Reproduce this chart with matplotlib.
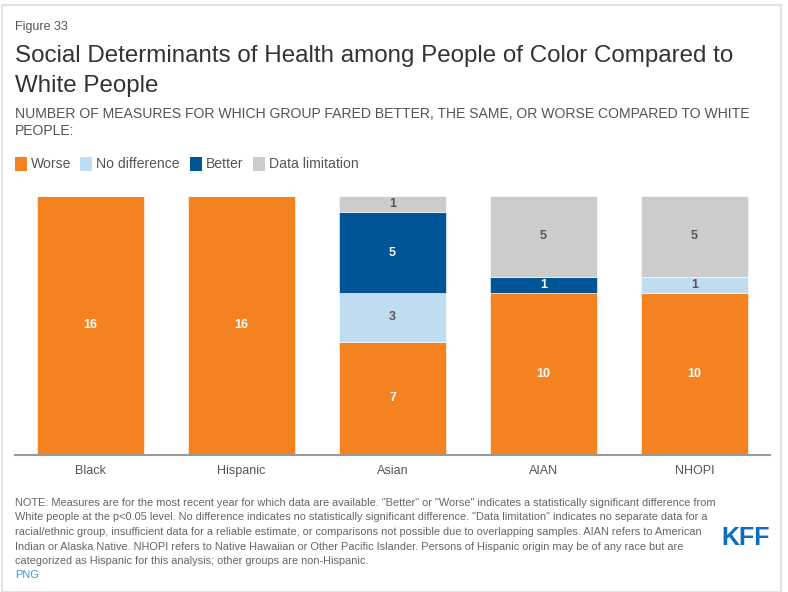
import matplotlib
matplotlib.use("Agg")
import matplotlib.pyplot as plt
from matplotlib.patches import Rectangle
import numpy as np

plt.rcParams['font.family'] = ['Liberation Sans', 'DejaVu Sans']

categories = ["Black", "Hispanic", "Asian", "AIAN", "NHOPI"]
series_names = ["Worse", "No difference", "Better", "Data limitation"]
worse = [16, 16, 7, 10, 10]
no_difference = [0, 0, 3, 0, 1]
better = [0, 0, 5, 1, 0]
data_limitation = [0, 0, 1, 5, 5]

colors = ["#F58220", "#BFDDF1", "#005596", "#CCCCCC"]
label_colors = ["white", "#555555", "white", "#555555"]

W, H = 788, 592
fig = plt.figure(figsize=(W / 100, H / 100), dpi=100)

def fx(px):
    return px / W

def fy(py):
    return 1 - py / H

# outer frame
fig.patches.append(Rectangle((fx(2), fy(592)), fx(779), fy(5) - fy(592),
                             transform=fig.transFigure, fill=False,
                             edgecolor="#DDDDDD", linewidth=1.2))

fig.text(fx(15), fy(27), "Figure 33", fontsize=9, color="#555555", va="center")
fig.text(fx(15), fy(56), "Social Determinants of Health among People of Color Compared to",
         fontsize=17.4, color="#333333", va="center")
fig.text(fx(15), fy(86), "White People", fontsize=17.4, color="#333333", va="center")
fig.text(fx(15), fy(114), "NUMBER OF MEASURES FOR WHICH GROUP FARED BETTER, THE SAME, OR WORSE COMPARED TO WHITE",
         fontsize=10.1, color="#555555", va="center")
fig.text(fx(15), fy(131), "PEOPLE:", fontsize=10.1, color="#555555", va="center")

# legend
leg_x = [15, 80, 190, 253]
for i, name in enumerate(series_names):
    fig.patches.append(Rectangle((fx(leg_x[i]), fy(171)), fx(12), fy(157) - fy(171),
                                 transform=fig.transFigure, facecolor=colors[i],
                                 edgecolor="none"))
    fig.text(fx(leg_x[i] + 16), fy(164), name, fontsize=10.1, color="#555555", va="center")

ax = fig.add_axes([fx(15), fy(455), fx(770) - fx(15), fy(196) - fy(455)])
x = np.arange(len(categories))
series = [worse, no_difference, better, data_limitation]
bottom = np.zeros(len(categories))
for s, vals in enumerate(series):
    vals = np.array(vals, dtype=float)
    ax.bar(x, vals, bottom=bottom, width=0.705, color=colors[s],
           edgecolor="white", linewidth=0.4)
    for i, v in enumerate(vals):
        if v > 0:
            ax.text(x[i], bottom[i] + v / 2, f"{int(v)}", ha="center", va="center",
                    fontsize=9, fontweight="bold", color=label_colors[s])
    bottom += vals

ax.set_xlim(-0.5, len(categories) - 0.5)
ax.set_ylim(0, 16)
for sp in ["top", "right", "left"]:
    ax.spines[sp].set_visible(False)
ax.spines["bottom"].set_color("#999999")
ax.spines["bottom"].set_linewidth(1.5)
ax.set_yticks([])
ax.set_xticks(x)
ax.set_xticklabels(categories, fontsize=9, color="#555555")
ax.tick_params(axis="x", length=0, pad=7)

note_lines = [
    "NOTE: Measures are for the most recent year for which data are available. \"Better\" or \"Worse\" indicates a statistically significant difference from",
    "White people at the p<0.05 level. No difference indicates no statistically significant difference. \"Data limitation\" indicates no separate data for a",
    "racial/ethnic group, insufficient data for a reliable estimate, or comparisons not possible due to overlapping samples. AIAN refers to American",
    "Indian or Alaska Native. NHOPI refers to Native Hawaiian or Other Pacific Islander. Persons of Hispanic origin may be of any race but are",
    "categorized as Hispanic for this analysis; other groups are non-Hispanic.",
]
for i, line in enumerate(note_lines):
    fig.text(fx(15), fy(503 + i * 14.5), line, fontsize=7.9, color="#666666", va="center")
fig.text(fx(15), fy(575), "PNG", fontsize=7.9, color="#3A9AD9", va="center")
fig.text(fx(746), fy(538), "KFF", fontsize=18, fontweight="bold", color="#0B6DBF",
         ha="center", va="center", family=["Liberation Sans Narrow", "Liberation Sans"])

fig.savefig("out.png", dpi=100)
